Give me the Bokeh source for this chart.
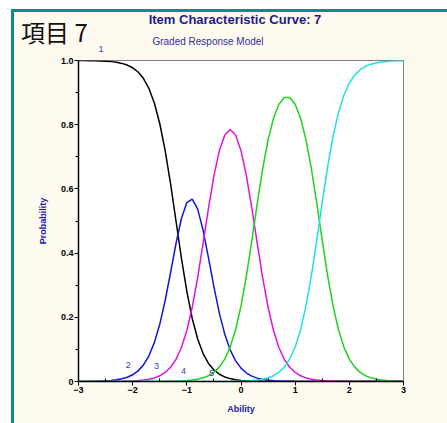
from bokeh.plotting import figure
from bokeh.models import ColumnDataSource, LabelSet, FixedTicker, Range1d, Div
from bokeh.layouts import column
from bokeh.embed import file_html
from bokeh.resources import INLINE
from bokeh.core.properties import value

# ---- data ----
theta = [-3.0, -2.9, -2.8, -2.7, -2.6, -2.5, -2.4, -2.3, -2.2, -2.1,
         -2.0, -1.9, -1.8, -1.7, -1.6, -1.5, -1.4, -1.3, -1.2, -1.1,
         -1.0, -0.9, -0.8, -0.7, -0.6, -0.5, -0.4, -0.3, -0.2, -0.1,
         0.0, 0.1, 0.2, 0.3, 0.4, 0.5, 0.6, 0.7, 0.8, 0.9,
         1.0, 1.1, 1.2, 1.3, 1.4, 1.5, 1.6, 1.7, 1.8, 1.9,
         2.0, 2.1, 2.2, 2.3, 2.4, 2.5, 2.6, 2.7, 2.8, 2.9, 3.0]

cat1 = [0.9998, 0.9997, 0.9995, 0.9991, 0.9986, 0.9978, 0.9965, 0.9943, 0.9910, 0.9857,
        0.9773, 0.9641, 0.9438, 0.9129, 0.8676, 0.8038, 0.7191, 0.6154, 0.5000, 0.3846,
        0.2809, 0.1962, 0.1324, 0.0871, 0.0562, 0.0359, 0.0227, 0.0143, 0.0090, 0.0057,
        0.0035, 0.0022, 0.0014, 0.0009, 0.0005, 0.0003, 0.0002, 0.0001, 0.0001, 0.0000,
        0.0, 0.0, 0.0, 0.0, 0.0, 0.0, 0.0, 0.0, 0.0, 0.0,
        0.0, 0.0, 0.0, 0.0, 0.0, 0.0, 0.0, 0.0, 0.0, 0.0, 0.0]

cat2 = [0.0002, 0.0003, 0.0005, 0.0008, 0.0013, 0.0020, 0.0032, 0.0053, 0.0083, 0.0132,
        0.0209, 0.0331, 0.0517, 0.0800, 0.1210, 0.1781, 0.2523, 0.3396, 0.4299, 0.5078,
        0.5573, 0.5679, 0.5369, 0.4714, 0.3853, 0.2948, 0.2132, 0.1475, 0.0986, 0.0644,
        0.0415, 0.0264, 0.0167, 0.0105, 0.0066, 0.0042, 0.0026, 0.0017, 0.0010, 0.0007,
        0.0004, 0.0003, 0.0002, 0.0001, 0.0001, 0.0, 0.0, 0.0, 0.0, 0.0,
        0.0, 0.0, 0.0, 0.0, 0.0, 0.0, 0.0, 0.0, 0.0, 0.0, 0.0]

cat3 = [0.0, 0.0, 0.0, 0.0, 0.0001, 0.0002, 0.0003, 0.0004, 0.0007, 0.0011,
        0.0018, 0.0028, 0.0044, 0.0070, 0.0112, 0.0178, 0.0282, 0.0443, 0.0690, 0.1058,
        0.1590, 0.2314, 0.3236, 0.4301, 0.5404, 0.6407, 0.7191, 0.7681, 0.7848, 0.7681,
        0.7191, 0.6407, 0.5404, 0.4301, 0.3236, 0.2314, 0.1590, 0.1058, 0.0690, 0.0443,
        0.0282, 0.0178, 0.0112, 0.0070, 0.0044, 0.0028, 0.0018, 0.0011, 0.0007, 0.0004,
        0.0003, 0.0002, 0.0001, 0.0001, 0.0, 0.0, 0.0, 0.0, 0.0, 0.0, 0.0]

cat4 = [0.0, 0.0, 0.0, 0.0, 0.0, 0.0, 0.0, 0.0, 0.0, 0.0,
        0.0, 0.0, 0.0, 0.0001, 0.0002, 0.0003, 0.0004, 0.0007, 0.0011, 0.0018,
        0.0028, 0.0045, 0.0071, 0.0114, 0.0180, 0.0285, 0.0448, 0.0698, 0.1072, 0.1611,
        0.2348, 0.3289, 0.4387, 0.5540, 0.6622, 0.7527, 0.8201, 0.8638, 0.8849, 0.8849,
        0.8638, 0.8201, 0.7527, 0.6622, 0.5540, 0.4387, 0.3289, 0.2348, 0.1611, 0.1072,
        0.0698, 0.0448, 0.0285, 0.0180, 0.0114, 0.0071, 0.0045, 0.0028, 0.0018, 0.0011, 0.0007]

cat5 = [0.0, 0.0, 0.0, 0.0, 0.0, 0.0, 0.0, 0.0, 0.0, 0.0,
        0.0, 0.0, 0.0, 0.0, 0.0, 0.0, 0.0, 0.0, 0.0, 0.0,
        0.0, 0.0, 0.0, 0.0, 0.0001, 0.0001, 0.0002, 0.0003, 0.0004, 0.0007,
        0.0011, 0.0018, 0.0028, 0.0045, 0.0071, 0.0114, 0.0181, 0.0286, 0.0450, 0.0701,
        0.1076, 0.1618, 0.2359, 0.3307, 0.4415, 0.5585, 0.6693, 0.7641, 0.8382, 0.8924,
        0.9299, 0.9550, 0.9714, 0.9819, 0.9886, 0.9929, 0.9955, 0.9972, 0.9982, 0.9989, 0.9993]

curve_labels = ["1", "2", "3", "4", "5"]
curve_label_x = [-2.58, -2.08, -1.56, -1.06, -0.54]
curve_label_y = [1.03, 0.050, 0.047, 0.034, 0.028]

x_ticks = [-3, -2, -1, 0, 1, 2, 3]
x_minor = [-2.5, -1.5, -0.5, 0.5, 1.5, 2.5]
y_ticks = [0, 0.2, 0.4, 0.6, 0.8, 1.0]
y_tick_labels = ["0", "0.2", "0.4", "0.6", "0.8", "1.0"]
y_minor = [0.1, 0.3, 0.5, 0.7, 0.9]

heading = "項目 7"
title_text = "Item Characteristic Curve: 7"
subtitle_text = "Graded Response Model"

colors = ["#000000", "#1414dc", "#e014e0", "#1ed21e", "#1ee0e0"]
NAVY = "#1c1c8c"
FONT = "Liberation Sans"
TEAL = "#138a8a"
CREAM = "#fffaf0"

p = figure(width=433, height=369, output_backend="svg", toolbar_location=None,
           title_location=None,
           x_range=Range1d(-3, 3), y_range=Range1d(0, 1),
           min_border_left=64, min_border_right=44, min_border_top=6, min_border_bottom=42)
p.border_fill_color = CREAM
p.background_fill_color = "#ffffff"
p.outline_line_color = "#808080"
p.outline_line_width = 1
p.xgrid.visible = False
p.ygrid.visible = False

for ys, c in zip([cat1, cat2, cat3, cat4, cat5], colors):
    p.line(theta, ys, line_color=c, line_width=1.5)

# axes
p.xaxis.ticker = FixedTicker(ticks=x_ticks, minor_ticks=x_minor)
p.yaxis.ticker = FixedTicker(ticks=y_ticks, minor_ticks=y_minor)
p.yaxis.major_label_overrides = {t: l for t, l in zip(y_ticks, y_tick_labels)}
for ax in (p.xaxis[0], p.yaxis[0]):
    ax.axis_line_color = "black"
    ax.axis_line_width = 1.5
    ax.major_tick_line_color = "black"
    ax.minor_tick_line_color = "black"
    ax.major_tick_out = 4
    ax.major_tick_in = 0
    ax.major_label_text_font = FONT
    ax.major_label_text_font_style = "bold"
    ax.major_label_text_font_size = "9px"
    ax.major_label_text_color = "black"
    ax.major_label_standoff = 1
    ax.axis_label_text_font = FONT
    ax.axis_label_text_font_style = "bold"
    ax.axis_label_text_font_size = "9px"
    ax.axis_label_text_color = "#2020a8"
p.xaxis.minor_tick_in = 3
p.xaxis.minor_tick_out = 0
p.yaxis.minor_tick_in = 0
p.yaxis.minor_tick_out = 3
p.xaxis.axis_label = "Ability"
p.yaxis.axis_label = "Probability"
p.xaxis.axis_label_standoff = 8
p.yaxis.axis_label_standoff = 10

# curve numbers that sit inside the frame
src = ColumnDataSource(dict(x=curve_label_x[1:], y=curve_label_y[1:], t=curve_labels[1:]))
p.add_layout(LabelSet(x="x", y="y", text="t", source=src, level="overlay",
                      text_font=value(FONT), text_font_size="9px",
                      text_color="#4040a0", text_align="center",
                      text_baseline="middle"))

# header (heading, titles and the label of curve 1, which sits above the frame)
def span(txt, left, top, size, color, family=FONT, weight="normal", center=False):
    tr = "transform:translateX(-50%);" if center else ""
    return ('<span style="position:absolute;left:%spx;top:%spx;%s'
            'font-family:\'%s\';font-size:%spx;line-height:1;font-weight:%s;'
            'color:%s;white-space:nowrap">%s</span>'
            % (left, top, tr, family, size, weight, color, txt))

header_html = ('<div style="position:relative;width:433px;height:42px;margin:0;padding:0">'
               + span(heading, 7, 7.5, 24, "#111111", family="Noto Sans CJK JP")
               + span(title_text, 221, 1, 13, NAVY, weight="bold", center=True)
               + span(subtitle_text, 194, 24.5, 10, "#3030a0", center=True)
               + span(curve_labels[0], 87, 33.4, 9, "#4040a0", center=True)
               + '</div>')
header = Div(text=header_html, width=433, height=42, margin=0)

layout = column(header, p, spacing=0,
                styles={"margin-left": "11px", "margin-top": "9px",
                        "border-left": "3px solid " + TEAL,
                        "border-top": "3px solid " + TEAL,
                        "background-color": CREAM})

with open("out.html", "w", encoding="utf-8") as f:
    f.write(file_html(layout, INLINE))
